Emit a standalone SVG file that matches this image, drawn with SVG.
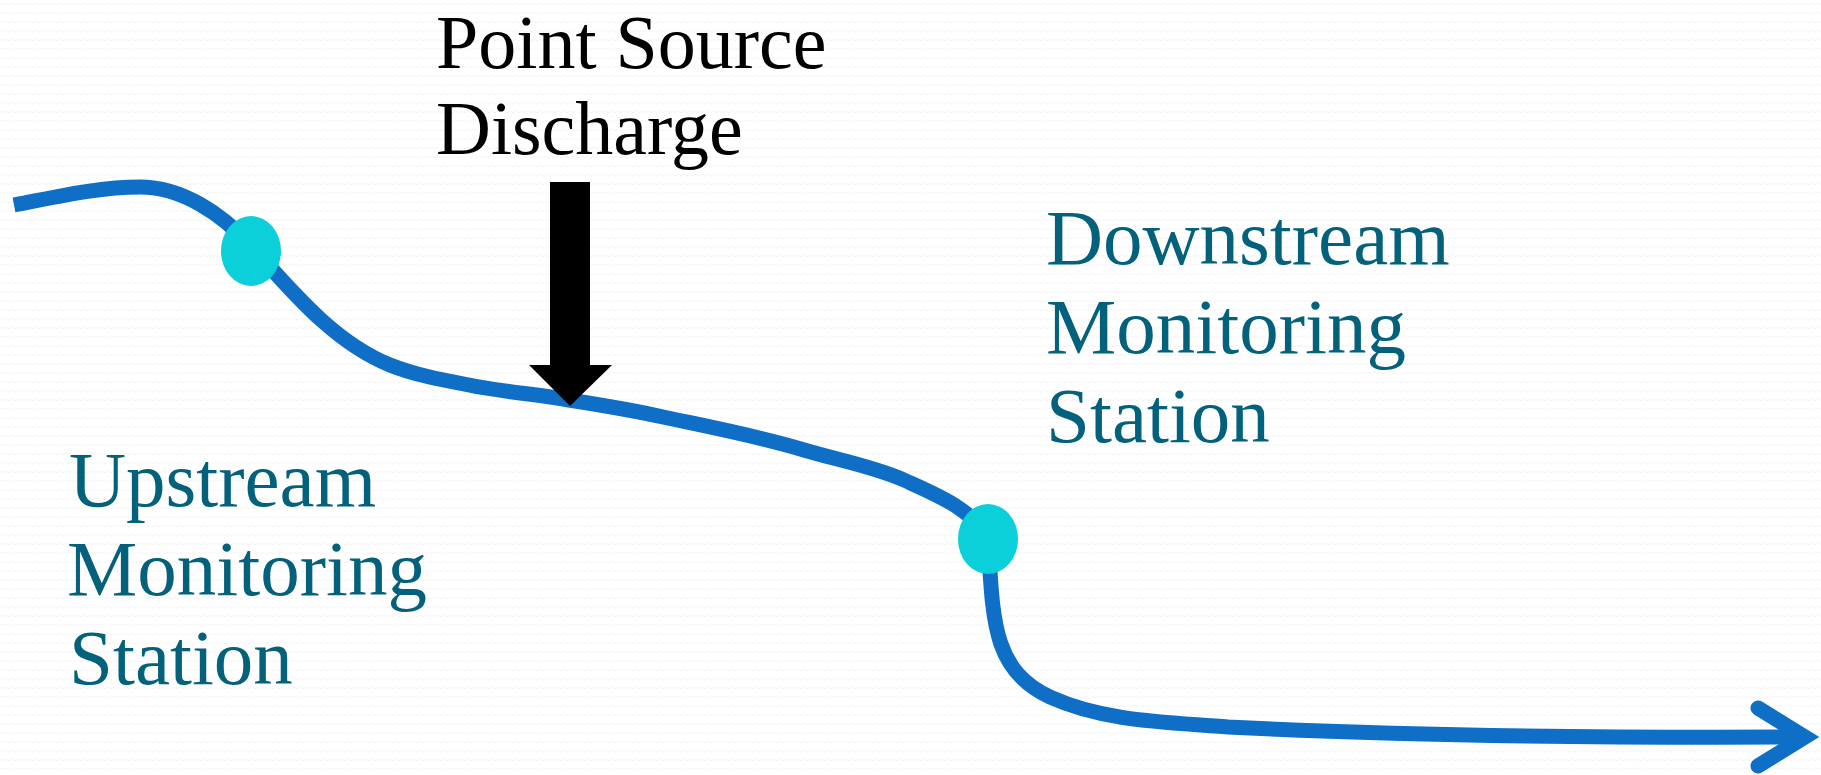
<svg xmlns="http://www.w3.org/2000/svg" width="1821" height="775" viewBox="0 0 1821 775">
  <defs>
    <pattern id="bg" width="6" height="9" patternUnits="userSpaceOnUse">
      <rect width="6" height="9" fill="#ffffff"/>
      <path d="M0.5 3 q2.5 3.5 5 0" fill="none" stroke="#efefef" stroke-width="0.8"/>
    </pattern>
    <style>
      .river { fill: none; stroke: #0F6FC6; stroke-width: 15; }
      .station { fill: #0BD0D9; }
      .label { font-family: "Liberation Serif", "Times New Roman", serif; font-size: 79px; fill: #04617B; }
      .black { font-family: "Liberation Serif", "Times New Roman", serif; font-size: 76px; fill: #000000; }
    </style>
  </defs>
  <rect width="1821" height="775" fill="url(#bg)"/>

  <g id="connectors">
    <path id="river" class="river" d="M14 205 C56 197 98 187 140 187 C182 187 222 214 250 245 C291 290 333 342 390 365 C415 375 442.5 380 469 385 C502 392 536 394 569 400 C601 405 632 410 663 417 C710 427 758 436 804 450 C837.5 460 872 466 904 480 C935 494 973 509 988 539 C993 620 992 670 1050 697 C1105 722 1168 722 1228 727 C1400 735.5 1600 738 1800 737"/>
    <polyline id="river-head" class="river" points="1758,708 1805,737 1758,766" stroke-linecap="round" stroke-linejoin="miter"/>
    <polygon id="discharge-arrow" points="550,182 590,182 590,365 612,365 570,406 529,365 550,365" fill="#000000"/>
  </g>

  <g id="upstream-station">
    <ellipse class="station" cx="251" cy="251" rx="30" ry="35"/>
  </g>
  <g id="downstream-station">
    <ellipse class="station" cx="988" cy="539" rx="30" ry="35"/>
  </g>

  <g id="point-source-label">
    <text class="black" x="436" y="68">Point Source</text>
    <text class="black" x="436" y="154">Discharge</text>
  </g>
  <g id="upstream-label">
    <text class="label" x="69" y="506">Upstream</text>
    <text class="label" x="67" y="595">Monitoring</text>
    <text class="label" x="69" y="684">Station</text>
  </g>
  <g id="downstream-label">
    <text class="label" x="1046" y="264">Downstream</text>
    <text class="label" x="1046" y="353">Monitoring</text>
    <text class="label" x="1046" y="442">Station</text>
  </g>
</svg>
